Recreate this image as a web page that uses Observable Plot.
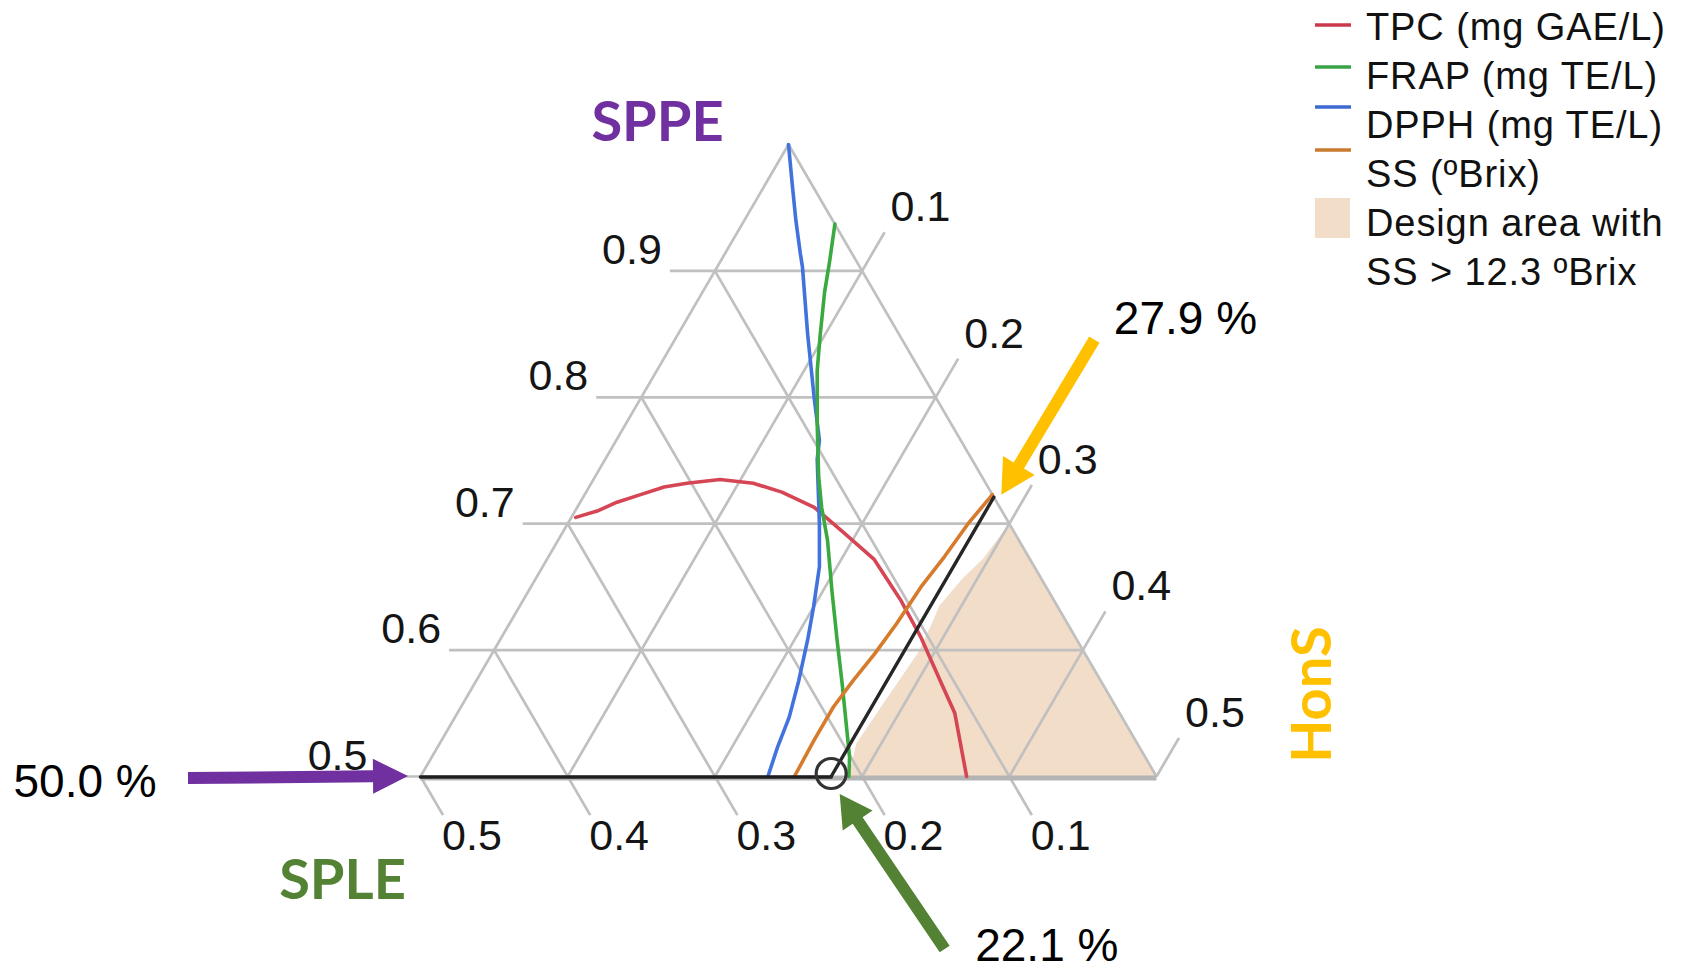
<!DOCTYPE html>
<html>
<head>
<meta charset="utf-8">
<script src="https://cdn.jsdelivr.net/npm/d3@7"></script>
<script src="https://cdn.jsdelivr.net/npm/@observablehq/plot@0.6"></script>
<style>
  html, body { margin: 0; padding: 0; background: #fff; }
  #chart { position: relative; width: 1687px; height: 973px; overflow: hidden; }
  #chart svg { display: block; }
</style>
</head>
<body>
<div id="chart"></div>
<script>
// Ternary mixture: SPPE (top vertex), SPLE (bottom-left), HonS (bottom-right).
// Only the SPPE >= 0.5 sub-triangle is shown.
const sppeTicks = [0.5, 0.6, 0.7, 0.8, 0.9];
const honsTicks = [0.1, 0.2, 0.3, 0.4, 0.5];
const spleTicks = [0.5, 0.4, 0.3, 0.2, 0.1];

// Response contours, as [SPPE, HonS] pairs (SPLE = 1 - SPPE - HonS)
const tpcCurve = [
  [0.705, 0.003], [0.710, 0.015], [0.717, 0.025], [0.723, 0.038], [0.729, 0.051],
  [0.732, 0.065], [0.735, 0.086], [0.732, 0.110], [0.725, 0.133], [0.713, 0.161],
  [0.693, 0.191], [0.672, 0.222], [0.639, 0.257], [0.610, 0.285], [0.576, 0.315],
  [0.550, 0.338], [0.500, 0.371]
];
const frapCurve = [
  [0.937, 0.063], [0.908, 0.074], [0.883, 0.083], [0.849, 0.097], [0.821, 0.109],
  [0.779, 0.130], [0.737, 0.152], [0.713, 0.166], [0.687, 0.183], [0.647, 0.206],
  [0.608, 0.229], [0.573, 0.250], [0.544, 0.267], [0.515, 0.284], [0.500, 0.291]
];
const dpphCurve = [
  [1.000, 0.000], [0.969, 0.018], [0.940, 0.035], [0.914, 0.051], [0.903, 0.058],
  [0.850, 0.088], [0.799, 0.118], [0.766, 0.138], [0.751, 0.144], [0.700, 0.171],
  [0.666, 0.188], [0.634, 0.200], [0.608, 0.209], [0.576, 0.219], [0.547, 0.227],
  [0.523, 0.231], [0.500, 0.236]
];
const ssCurve = [
  [0.500, 0.254], [0.529, 0.253], [0.555, 0.253], [0.576, 0.256], [0.597, 0.260],
  [0.621, 0.263], [0.650, 0.265], [0.674, 0.269], [0.700, 0.272], [0.723, 0.277]
];
// Region where SS > 12.3 ºBrix
const designArea = [
  [0.500, 0.291], [0.526, 0.283], [0.563, 0.286], [0.598, 0.289], [0.620, 0.287],
  [0.635, 0.285], [0.657, 0.290], [0.672, 0.296], [0.700, 0.300], [0.500, 0.500]
];

// Selected blend
const optimum = {SPPE: 0.500, SPLE: 0.221, HonS: 0.279};

const legendItems = [
  {label: "TPC (mg GAE/L)", color: "#c9384b"},
  {label: "FRAP (mg TE/L)", color: "#39a347"},
  {label: "DPPH (mg TE/L)", color: "#3c6ad3"},
  {label: "SS (ºBrix)", color: "#c97a2f"},
  {label: "Design area with", color: "#f2ddc8", box: true},
  {label: "SS > 12.3 ºBrix", color: null}
];

// ---- geometry helpers ----
const T = 0.0306;                       // axis tick length, in composition units
const toXY = ([sppe, hons]) => ({x: hons + sppe / 2, y: sppe});
const fx = d => d[1] + d[0] / 2;
const fy = d => d[0];
const fmt = d3.format(".1f");
const pct = v => d3.format(".1f")(v * 100) + " %";

function seg(a, b) {
  const p = toXY(a), q = toXY(b);
  return {x1: p.x, y1: p.y, x2: q.x, y2: q.y};
}

const grid = [];
for (const v of sppeTicks) grid.push(seg([v, -T], [v, v === 0.5 ? 0 : 1 - v]));
for (const h of honsTicks) grid.push(seg([0.5, h], [1 - h + T, h]));
for (const s of spleTicks) grid.push(seg([1 - s, 0], [0.5 - T, 0.5 - s + T]));
grid.push(seg([0.5, 0], [1, 0]));       // left edge (HonS = 0)
grid.push(seg([0.5, 0.5], [1, 0]));     // right edge (SPLE = 0)
const bottomEdge = [seg([0.5, 0], [0.5, 0.5])];

const sppeLabels = sppeTicks.map(v => ({...toXY([v, -T]), text: fmt(v)}));
const honsLabels = honsTicks.map(h => ({...toXY([1 - h + T, h]), text: fmt(h)}));
const spleLabels = spleTicks.map(s => ({...toXY([0.5 - T, 0.5 - s + T]), text: fmt(s)}));

const cornerBL = toXY([0.5, 0]);
const cornerBR = toXY([0.5, 0.5]);
const apex = toXY([1, 0]);
const optPoint = toXY([optimum.SPPE, optimum.HonS]);
const edgePoint = toXY([1 - optimum.HonS, optimum.HonS]);

// Block arrows pointing at the selected blend (tip/tail offsets in pixels)
const annotations = [
  {at: cornerBL, color: "#7030a0", tip: [-12, 0], tail: [-220, 2], shaft: 12, head: 35, headLen: 35},
  {at: edgePoint, color: "#ffc000", tip: [8, -2], tail: [93, -155], shaft: 12, head: 37, headLen: 34},
  {at: optPoint, color: "#548235", tip: [9, 18], tail: [105, 155], shaft: 12, head: 36, headLen: 32}
];

const xRange = {domain: [0.25, 0.75], range: [420, 1156]};
const yRange = {domain: [0.5, 1], range: [776, 144]};

function blockArrows(index, scales) {
  const sx = scales && scales.x ? scales.x : d3.scaleLinear(xRange.domain, xRange.range);
  const sy = scales && scales.y ? scales.y : d3.scaleLinear(yRange.domain, yRange.range);
  const g = d3.create("svg:g");
  for (const a of annotations) {
    const tx = sx(a.at.x) + a.tip[0], ty = sy(a.at.y) + a.tip[1];
    const bx = tx + a.tail[0], by = ty + a.tail[1];
    const len = Math.hypot(tx - bx, ty - by);
    const ux = (tx - bx) / len, uy = (ty - by) / len, nx = -uy, ny = ux;
    const hx = tx - ux * a.headLen, hy = ty - uy * a.headLen;
    const w = a.shaft / 2, H = a.head / 2;
    const pts = [
      [bx + nx * w, by + ny * w], [hx + nx * w, hy + ny * w], [hx + nx * H, hy + ny * H],
      [tx, ty],
      [hx - nx * H, hy - ny * H], [hx - nx * w, hy - ny * w], [bx - nx * w, by - ny * w]
    ];
    g.append("path").attr("d", "M" + pts.map(p => p.join(",")).join("L") + "Z").attr("fill", a.color);
  }
  return g.node();
}

const tickFont = {fontFamily: "'Liberation Sans', Arial, sans-serif", fontSize: 43, fill: "#151515"};
const noteFont = {fontFamily: "'Liberation Sans', Arial, sans-serif", fontSize: 46, fill: "#000"};
const titleFont = {fontFamily: "Lato, 'Open Sans', sans-serif", fontSize: 56, fontWeight: 700};

const svg = Plot.plot({
  width: 1687,
  height: 973,
  margin: 0,
  x: {type: "linear", ...xRange, axis: null},
  y: {type: "linear", ...yRange, axis: null},
  style: {background: "#fff", overflow: "visible"},
  marks: [
    // design area
    Plot.line(designArea, {x: fx, y: fy, fill: "#f2ddc8", stroke: "none"}),
    // grid + edges
    Plot.link(grid, {x1: "x1", y1: "y1", x2: "x2", y2: "y2", stroke: "#c0c0c0", strokeWidth: 2.7}),
    Plot.link(bottomEdge, {x1: "x1", y1: "y1", x2: "x2", y2: "y2", stroke: "#b4b4b4", strokeWidth: 5, dy: 1.5}),
    // contours
    Plot.line(tpcCurve, {x: fx, y: fy, stroke: "#d64553", strokeWidth: 3.6}),
    Plot.line(dpphCurve, {x: fx, y: fy, stroke: "#4272dd", strokeWidth: 3.6}),
    Plot.line(frapCurve, {x: fx, y: fy, stroke: "#3aaa40", strokeWidth: 3.6}),
    Plot.line(ssCurve, {x: fx, y: fy, stroke: "#d67a2b", strokeWidth: 3.6}),
    // selected blend path
    Plot.line([cornerBL, optPoint], {x: "x", y: "y", stroke: "#1e1e1e", strokeWidth: 3.6, dy: 0.5}),
    Plot.line([optPoint, edgePoint], {x: "x", y: "y", stroke: "#262626", strokeWidth: 3.4}),
    Plot.dot([optPoint], {x: "x", y: "y", r: 15, stroke: "#333", strokeWidth: 3.2, fill: "none", dy: -3}),
    // tick labels
    Plot.text(sppeLabels, {x: "x", y: "y", text: "text", textAnchor: "end", lineAnchor: "bottom", dx: -8, dy: -7, ...tickFont}),
    Plot.text(honsLabels, {x: "x", y: "y", text: "text", textAnchor: "start", lineAnchor: "bottom", dx: 6, dy: -11, ...tickFont}),
    Plot.text(spleLabels, {x: "x", y: "y", text: "text", textAnchor: "start", lineAnchor: "bottom", dx: -1, dy: 35, ...tickFont}),
    // component titles
    Plot.text([apex], {x: "x", y: "y", text: () => "SPPE", textAnchor: "middle", lineAnchor: "bottom", dx: -131, dy: -4, fill: "#7030a0", ...titleFont}),
    Plot.text([cornerBL], {x: "x", y: "y", text: () => "SPLE", textAnchor: "middle", lineAnchor: "bottom", dx: -78, dy: 122, fill: "#548235", ...titleFont}),
    Plot.text([cornerBR], {x: "x", y: "y", text: () => "HonS", textAnchor: "middle", lineAnchor: "middle", rotate: -90, dx: 157, dy: -82, fill: "#ffc000", ...titleFont}),
    // arrows and values
    blockArrows,
    Plot.text([cornerBL], {x: "x", y: "y", text: () => pct(optimum.SPPE), textAnchor: "start", lineAnchor: "bottom", dx: -407, dy: 20, ...noteFont}),
    Plot.text([edgePoint], {x: "x", y: "y", text: () => pct(optimum.HonS), textAnchor: "start", lineAnchor: "bottom", dx: 120, dy: -163, ...noteFont}),
    Plot.text([optPoint], {x: "x", y: "y", text: () => pct(optimum.SPLE), textAnchor: "start", lineAnchor: "bottom", dx: 144, dy: 184, ...noteFont})
  ]
});

// Legend (top right)
const lg = d3.select(svg).append("g")
  .attr("font-family", "'Liberation Sans', Arial, sans-serif")
  .attr("font-size", 38)
  .attr("letter-spacing", 0.9)
  .attr("text-anchor", "start")
  .attr("fill", "#111");
const lineSwatchY = [25, 67, 107, 150];
legendItems.forEach((item, i) => {
  const baseline = 40 + 49 * i;
  if (item.box) {
    lg.append("rect").attr("x", 1315).attr("y", 198).attr("width", 35).attr("height", 40).attr("fill", item.color);
  } else if (item.color) {
    lg.append("line").attr("x1", 1315).attr("x2", 1351)
      .attr("y1", lineSwatchY[i]).attr("y2", lineSwatchY[i])
      .attr("stroke", item.color).attr("stroke-width", 3.4);
  }
  lg.append("text").attr("x", 1366).attr("y", baseline).attr("text-anchor", "start").text(item.label);
});

document.getElementById("chart").appendChild(svg);
</script>
</body>
</html>
